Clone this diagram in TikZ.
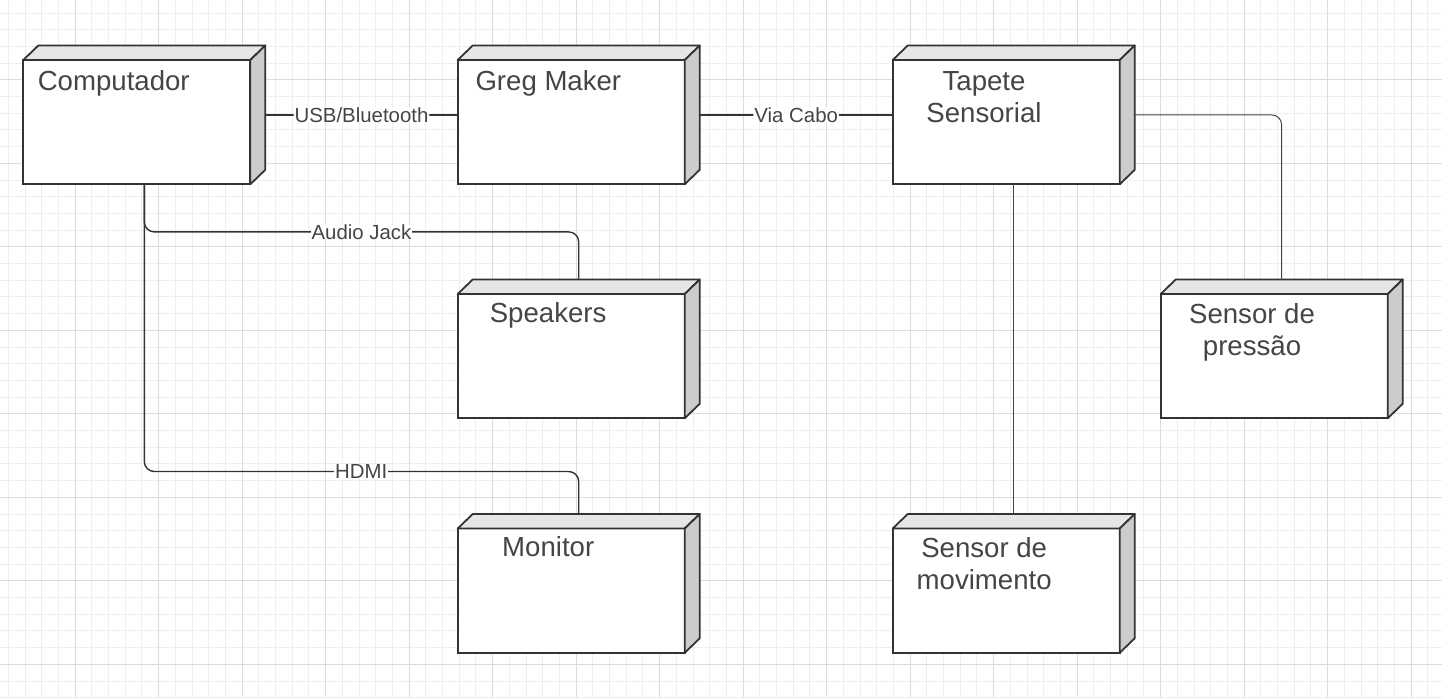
\documentclass[tikz,border=0pt]{standalone}
\usepackage{fontspec}
\setmainfont{Liberation Sans}
\usetikzlibrary{calc}
\definecolor{gridminor}{HTML}{EEEEEE}
\definecolor{gridmajor}{HTML}{DCDCDC}
\definecolor{boxline}{HTML}{333333}
\definecolor{topface}{HTML}{E6E6E6}
\definecolor{sideface}{HTML}{CCCCCC}
\definecolor{txt}{HTML}{454545}
\definecolor{thinline}{HTML}{444444}
\begin{document}
\begin{tikzpicture}[x=1pt,y=-1pt,
  umlbox/.style={draw=boxline, line width=1.8pt, fill=white, minimum width=227pt, minimum height=124.3pt, anchor=north west, inner sep=0pt, outer sep=0pt},
  face/.style={draw=boxline, line width=1.8pt, line join=round},
  boxlabel/.style={text=txt, font=\fontsize{27.6}{32.5}\selectfont, inner sep=0pt, align=center},
  conn/.style={draw=boxline, line width=1.4pt, rounded corners=10pt},
  connthin/.style={draw=thinline, line width=1pt, rounded corners=10pt},
  elabel/.style={text=txt, font=\fontsize{20.4}{24}\selectfont, fill=white, inner xsep=1pt, inner ysep=0pt, text height=14.6pt, text depth=0pt},
  minorline/.style={draw=gridminor, line width=0.9pt},
  majorline/.style={draw=gridmajor, line width=0.9pt}
]
\useasboundingbox (0,0) rectangle (1442,697);
\fill[white] (0,0) rectangle (1442,697);
% grid
\foreach \k in {0,...,86} \draw[minorline] ({8.3+16.7*\k},0) -- ({8.3+16.7*\k},697);
\foreach \k in {0,...,41} \draw[minorline] (0,{13+16.7*\k}) -- (1442,{13+16.7*\k});
\foreach \k in {4,9,...,84} \draw[majorline] ({8.3+16.7*\k},0) -- ({8.3+16.7*\k},697);
\foreach \k in {4,9,...,39} \draw[majorline] (0,{13+16.7*\k}) -- (1442,{13+16.7*\k});

% boxes (front faces)
\node[umlbox] (comp) at (23.3,60) {};
\node[umlbox] (greg) at (457.7,60) {};
\node[umlbox] (tapete) at (892.7,60) {};
\node[umlbox] (speakers) at (457.7,294) {};
\node[umlbox] (pressao) at (1160.7,294) {};
\node[umlbox] (monitor) at (457.7,528.5) {};
\node[umlbox] (movimento) at (892.7,528.5) {};

% 3D faces
\foreach \n in {comp,greg,tapete,speakers,pressao,monitor,movimento}{
  \filldraw[face, fill=topface] (\n.north west) -- ([shift={(15pt,14.5pt)}]\n.north west) -- ([shift={(15pt,14.5pt)}]\n.north east) -- (\n.north east) -- cycle;
  \filldraw[face, fill=sideface] (\n.north east) -- ([shift={(15pt,14.5pt)}]\n.north east) -- ([shift={(15pt,14.5pt)}]\n.south east) -- (\n.south east) -- cycle;
}

% connectors
\draw[conn] ([shift={(15pt,7.25pt)}]comp.east) -- ([yshift=7.25pt]greg.west) node[midway, elabel] (usbL) {USB/Bluetooth};
\draw[conn] ([shift={(15pt,7.25pt)}]greg.east) -- ([yshift=7.25pt]tapete.west) node[midway, elabel] (caboL) {Via Cabo};
\coordinate (compBot) at ([xshift=7.5pt]comp.south);
\coordinate (spkTop) at ([shift={(7.5pt,14.5pt)}]speakers.north);
\coordinate (monTop) at ([shift={(7.5pt,14.5pt)}]monitor.north);
\coordinate (hdmiMid) at (361.3,471.5);
\draw[conn] (compBot) |- ($(compBot)!0.5!(spkTop)$) coordinate (audioMid) -| (spkTop);
\draw[conn] (compBot) |- (hdmiMid) -| (monTop);
\node[elabel] (audioL) at (audioMid) {Audio Jack};
\node[elabel] (hdmiL) at (hdmiMid) {HDMI};
\draw[connthin] ([shift={(15pt,7.25pt)}]tapete.east) -| ([shift={(7.5pt,14.5pt)}]pressao.north);
\draw[connthin] ([xshift=7.5pt]tapete.south) -- ([shift={(7.5pt,14.5pt)}]movimento.north);

% box labels (multi-line nodes: base = baseline of last line)
\node[boxlabel, anchor=base west] (compL) at (37.6,90) {Computador};
\node[boxlabel, anchor=base west] (gregL) at (475.3,90) {Greg Maker};
\node[boxlabel, anchor=base] (tapeteL) at (984,122.5) {Tapete\\Sensorial};
\node[boxlabel, anchor=base west] (speakersL) at (489.6,322.7) {Speakers};
\node[boxlabel, anchor=base] (pressaoL) at (1252,355.8) {Sensor de\\pressão};
\node[boxlabel, anchor=base west] (monitorL) at (502,556.7) {Monitor};
\node[boxlabel, anchor=base] (movimentoL) at (984.2,589.5) {Sensor de\\movimento};
\end{tikzpicture}
\end{document}
